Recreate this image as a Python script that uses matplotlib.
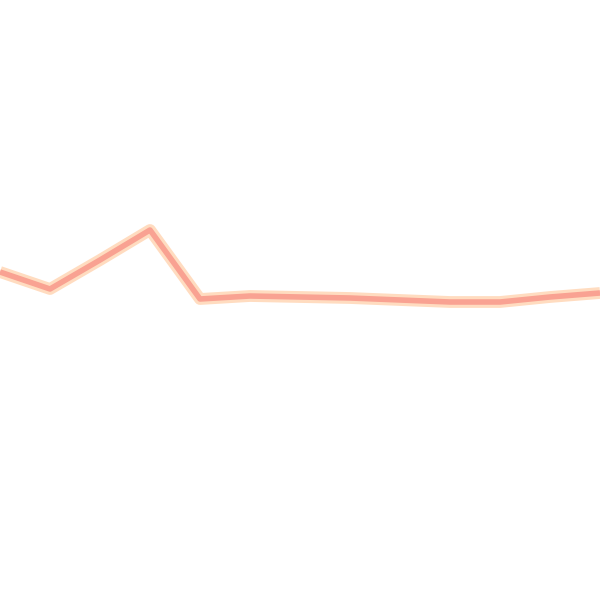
import matplotlib
matplotlib.use("Agg")
import matplotlib.pyplot as plt

x_index = list(range(13))
values = [328, 311, 340, 370, 301, 304, 303, 302, 300, 298, 298, 303, 307]

fig = plt.figure(figsize=(6, 6), dpi=100)
ax = fig.add_axes([0, 0, 1, 1])
ax.plot(x_index, values, color="#ffdcc0", lw=8.5, solid_capstyle="butt", solid_joinstyle="round")
ax.plot(x_index, values, color="#f9a292", lw=4.0, solid_capstyle="butt", solid_joinstyle="round")
ax.set_xlim(0, 12)
ax.set_ylim(0, 600)
ax.axis("off")
fig.savefig("out.png", dpi=100, facecolor="white")
